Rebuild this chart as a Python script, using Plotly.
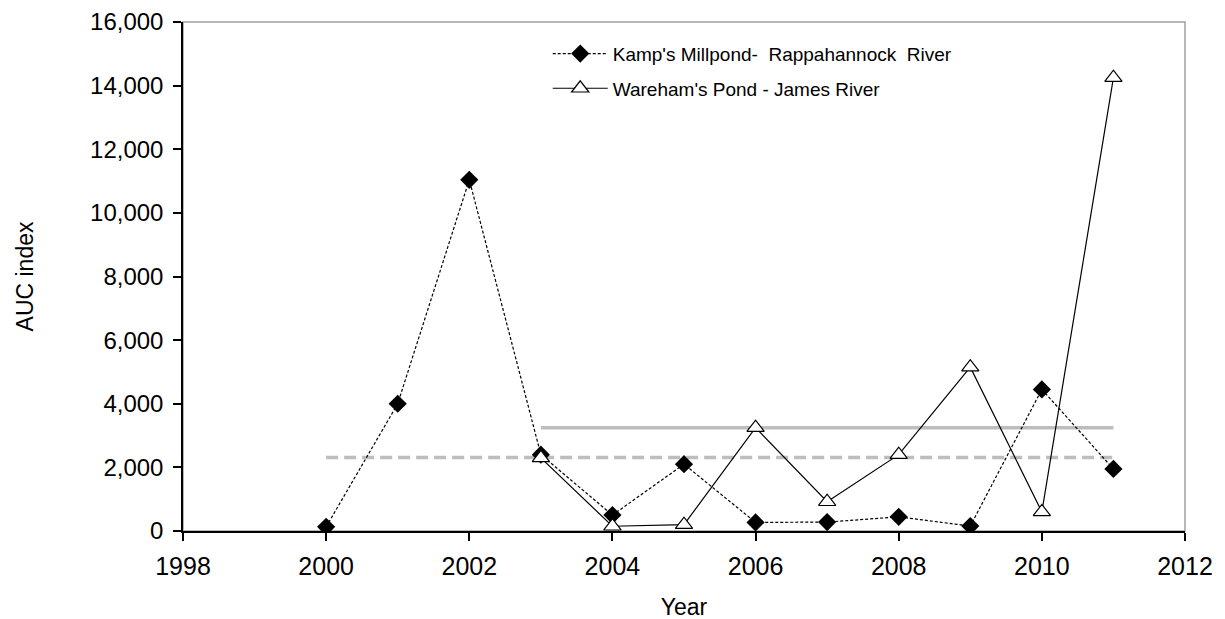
import numpy as np
import plotly.graph_objects as go

kamp_years = [2000, 2001, 2002, 2003, 2004, 2005, 2006, 2007, 2008, 2009, 2010, 2011]
kamp_auc = [130, 4000, 11040, 2400, 500, 2100, 270, 280, 445, 155, 4450, 1950]

ware_years = [2003, 2004, 2005, 2006, 2007, 2008, 2009, 2010, 2011]
ware_auc = [2300, 150, 200, 3250, 920, 2400, 5150, 600, 14250]

kamp_name = "Kamp's Millpond-  Rappahannock  River"
ware_name = "Wareham's Pond - James River"

x_ticks = [1998, 2000, 2002, 2004, 2006, 2008, 2010, 2012]
y_ticks = [0, 2000, 4000, 6000, 8000, 10000, 12000, 14000, 16000]

FONT = "Arial, Liberation Sans, sans-serif"

kamp_mean = float(np.mean(kamp_auc))
ware_mean = float(np.mean(ware_auc))

fig = go.Figure()

# mean lines
fig.add_trace(go.Scatter(
    x=[kamp_years[0], kamp_years[-1]], y=[kamp_mean, kamp_mean],
    mode="lines", line=dict(color="#bdbdbd", width=3.5, dash="12px,6px"),
    showlegend=False, hoverinfo="skip"))
fig.add_trace(go.Scatter(
    x=[ware_years[0], ware_years[-1]], y=[ware_mean, ware_mean],
    mode="lines", line=dict(color="#bdbdbd", width=3.5),
    showlegend=False, hoverinfo="skip"))

fig.add_trace(go.Scatter(
    x=kamp_years, y=kamp_auc, name=kamp_name, legendgroup="k",
    mode="lines+markers",
    line=dict(color="black", width=1.2, dash="3px,2px"),
    marker=dict(symbol="diamond", size=14, color="black")))

fig.add_trace(go.Scatter(
    x=ware_years, y=ware_auc, name=ware_name, legendgroup="w",
    mode="lines+markers",
    line=dict(color="black", width=1.2),
    marker=dict(symbol="triangle-up", size=15, color="white",
                line=dict(color="black", width=1.2))))

fig.update_layout(
    width=1225, height=619,
    margin=dict(l=175, r=48, t=14, b=96),
    paper_bgcolor="white", plot_bgcolor="white",
    font=dict(family=FONT, color="black"),
    legend=dict(x=0.364, y=0.975, xanchor="left", yanchor="top",
                bgcolor="rgba(0,0,0,0)", font=dict(size=19, family=FONT),
                itemwidth=55, tracegroupgap=7),
    shapes=[dict(type="rect", xref="paper", yref="paper", x0=0, y0=0, x1=1, y1=1,
                 line=dict(color="#a0a0a0", width=1.5), layer="below")],
)

fig.update_xaxes(
    range=[1998, 2012], tickvals=x_ticks, ticktext=[str(t) for t in x_ticks],
    showgrid=False, zeroline=False, showline=True, linecolor="black", linewidth=1.5,
    ticks="outside", ticklen=8, tickcolor="black", tickwidth=1.5,
    tickfont=dict(size=25, family=FONT), automargin=False,
    ticklabelstandoff=4, ticklabeloverflow="allow",
    title=dict(text="Year", font=dict(size=23, family=FONT), standoff=20))

fig.update_yaxes(
    range=[0, 16000], tickvals=y_ticks, ticktext=[f"{t:,}" for t in y_ticks],
    showgrid=False, zeroline=False, showline=True, linecolor="black", linewidth=1.5,
    ticks="outside", ticklen=8, tickcolor="black", tickwidth=1.5,
    tickfont=dict(size=24, family=FONT), automargin=False,
    ticklabelstandoff=5, ticklabeloverflow="allow",
    title=dict(text="AUC index", font=dict(size=23, family=FONT), standoff=50))

fig.write_html("out.html")
